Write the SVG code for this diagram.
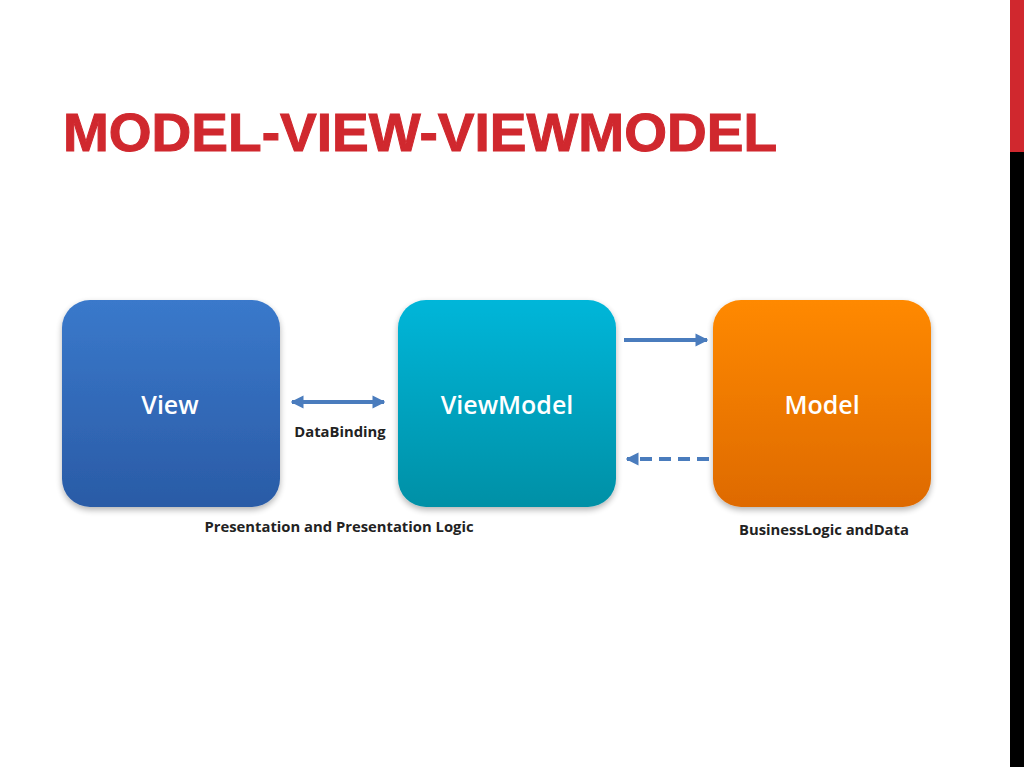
<svg xmlns="http://www.w3.org/2000/svg" width="1024" height="767" viewBox="0 0 1024 767">
<style>
.title{font-family:"Liberation Sans",Arial,sans-serif;font-weight:bold;fill:#d0282e;font-size:53px;stroke:#d0282e;stroke-width:1}
.node{font-family:"Open Sans","Noto Sans",sans-serif;font-weight:600;fill:#ffffff;font-size:25px;text-anchor:middle}
.lbl{font-family:"Open Sans","Noto Sans",sans-serif;font-weight:bold;fill:#222222;font-size:14.8px;text-anchor:middle}
.conn{stroke:#4a7cbd;stroke-width:4;fill:none}
</style>
<defs>
<linearGradient id="gView" x1="0" y1="0" x2="0" y2="1"><stop offset="0" stop-color="#3a79cb"/><stop offset="1" stop-color="#2a5ba6"/></linearGradient>
<linearGradient id="gVM" x1="0" y1="0" x2="0" y2="1"><stop offset="0" stop-color="#00b6d9"/><stop offset="1" stop-color="#0090a6"/></linearGradient>
<linearGradient id="gM" x1="0" y1="0" x2="0" y2="1"><stop offset="0" stop-color="#ff8900"/><stop offset="1" stop-color="#de6a06"/></linearGradient>
<filter id="sh" x="-10%" y="-10%" width="120%" height="125%"><feGaussianBlur in="SourceAlpha" stdDeviation="3"/><feOffset dy="3"/><feComponentTransfer><feFuncA type="linear" slope="0.3"/></feComponentTransfer><feMerge><feMergeNode/><feMergeNode in="SourceGraphic"/></feMerge></filter>
<marker id="ah" viewBox="0 0 10 10" refX="9" refY="5" markerWidth="3.2" markerHeight="3.4" orient="auto-start-reverse"><path d="M0,0 L10,5 L0,10 z" fill="#4a7cbd"/></marker>
</defs>
<rect width="1024" height="767" fill="#ffffff"/>
<rect x="1010" y="0" width="14" height="152" fill="#d0282e"/>
<rect x="1010" y="152" width="14" height="615" fill="#000000"/>
<text class="title" x="63" y="151" textLength="714" lengthAdjust="spacingAndGlyphs">MODEL-VIEW-VIEWMODEL</text>
<g id="view"><rect x="62" y="300" width="218" height="207" rx="28" fill="url(#gView)" filter="url(#sh)"/><text class="node" x="170" y="414">View</text></g>
<g id="viewmodel"><rect x="398" y="300" width="218" height="207" rx="28" fill="url(#gVM)" filter="url(#sh)"/><text class="node" x="507" y="414">ViewModel</text></g>
<g id="model"><rect x="713" y="300" width="218" height="207" rx="28" fill="url(#gM)" filter="url(#sh)"/><text class="node" x="822" y="414">Model</text></g>
<g id="connectors">
<line class="conn" x1="292" y1="402" x2="384" y2="402" marker-start="url(#ah)" marker-end="url(#ah)"/>
<line class="conn" x1="624" y1="340" x2="707" y2="340" marker-end="url(#ah)"/>
<line class="conn" x1="709" y1="459" x2="627" y2="459" stroke-dasharray="12,7" marker-end="url(#ah)"/>
</g>
<text class="lbl" x="340" y="437">DataBinding</text>
<text class="lbl" x="339" y="532">Presentation and Presentation Logic</text>
<text class="lbl" x="824" y="535">BusinessLogic andData</text>
</svg>
